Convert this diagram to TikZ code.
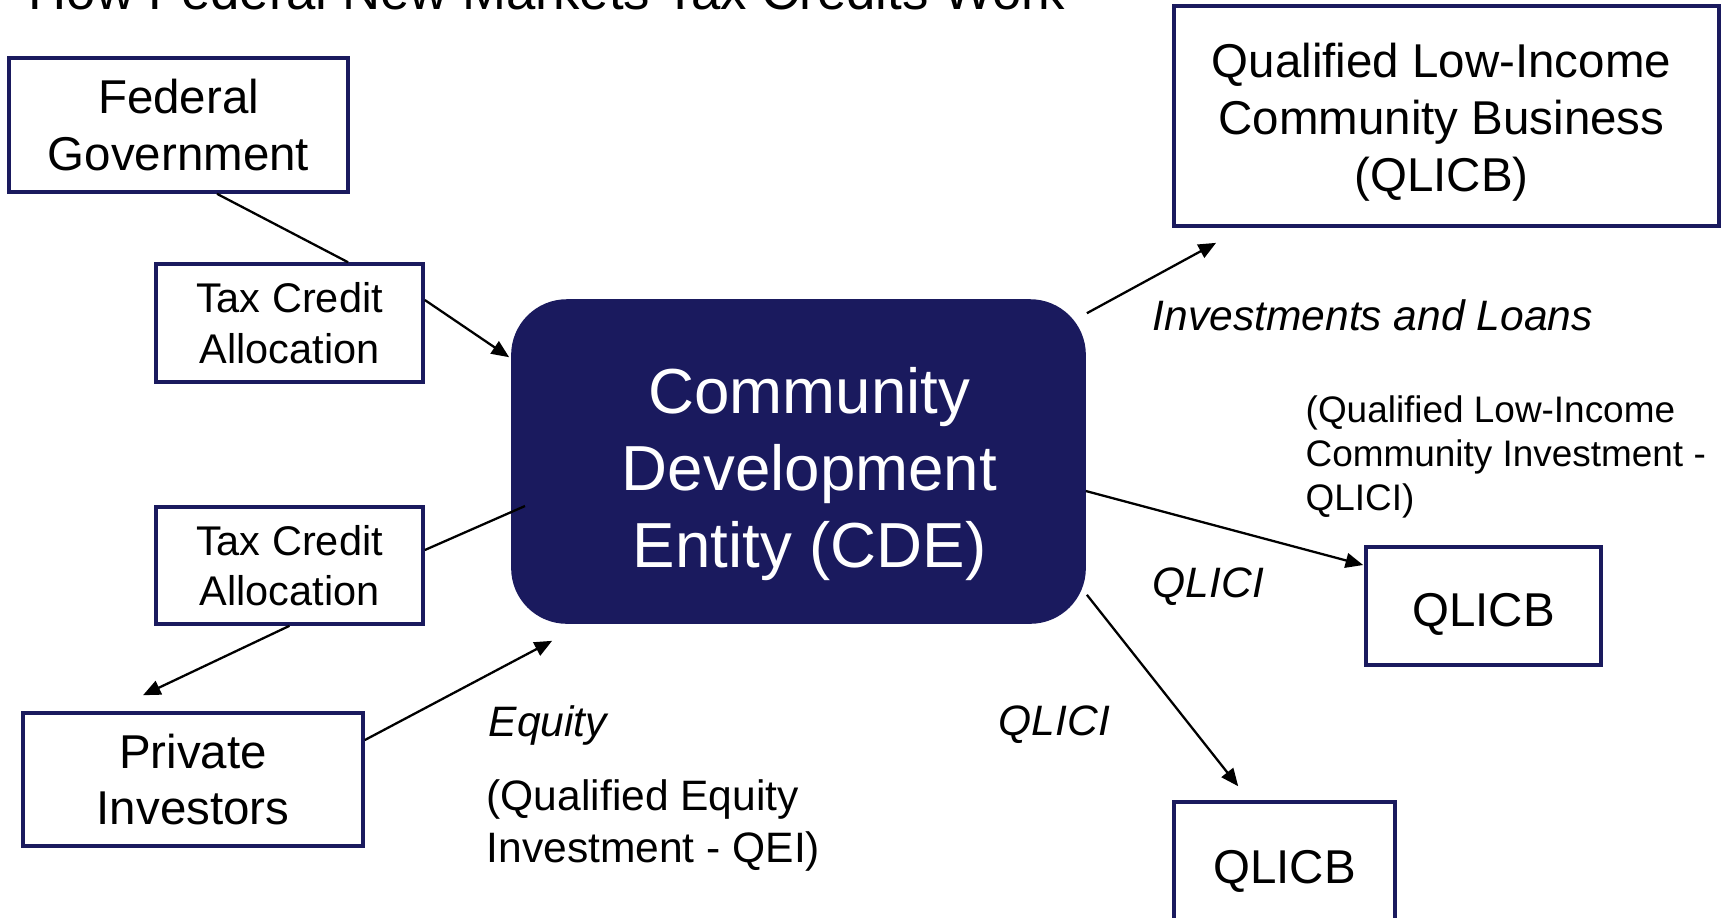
\documentclass[tikz,border=0pt]{standalone}
\usepackage{fontspec}
\setmainfont{Liberation Sans}
\usetikzlibrary{arrows.meta,calc}
\definecolor{navy}{HTML}{1A1A5E}
\begin{document}
\begin{tikzpicture}[x=0.01cm,y=-0.01cm,
  box/.style={draw=navy, line width=1pt, fill=white, inner sep=0pt, align=center},
  bigtxt/.style={font=\fontsize{13.5}{16.2}\selectfont},
  midtxt/.style={font=\fontsize{11.8}{14.4}\selectfont},
  lowtxt/.style={text height=11.4pt, text depth=0pt},
  cdebox/.style={fill=navy, draw=navy, rounded corners=0.55cm, inner sep=0pt},
  cdetxt/.style={inner sep=0pt, align=center, text=white,
    font=\fontsize{18.1}{21.9}\selectfont},
  lbl/.style={inner sep=0pt, font=\fontsize{12.1}{14.8}\selectfont\itshape},
  note/.style={inner sep=0pt, align=left},
  link/.style={line width=0.65pt},
  arr/.style={link, -{Triangle[length=5pt,width=4.2pt]}}]
\useasboundingbox (0,0) rectangle (1727,917);

% heading
\node[anchor=base west, inner sep=0pt, font=\fontsize{15}{18}\selectfont]
  (title) at (28,9) {How Federal New Markets Tax Credits Work};

% boxes
\node[box, bigtxt, minimum width=3.39cm, minimum height=1.34cm]
  (fed) at (178.5,125) {Federal\\Government};
\node[box, midtxt, minimum width=2.67cm, minimum height=1.18cm]
  (tca1) at (289.5,323) {Tax Credit\\Allocation};
\node[box, midtxt, minimum width=2.67cm, minimum height=1.17cm]
  (tca2) at (289.5,565.5) {Tax Credit\\Allocation};
\node[box, bigtxt, minimum width=3.40cm, minimum height=1.33cm]
  (inv) at (193,779.5) {Private\\Investors};
\node[cdebox, minimum width=5.73cm, minimum height=3.23cm]
  (cde) at (798.5,461.5) {};
\node[cdetxt] (cdelabel) at ($(cde.center)+(11,13)$)
  {Community\\Development\\Entity (CDE)};
\node[box, minimum width=5.45cm, minimum height=2.20cm]
  (qbig) at (1446.5,116) {};
\node[bigtxt, inner sep=0pt, align=center] (qbiglabel) at ($(qbig.center)+(-5,6.5)$)
  {Qualified Low-Income\\Community Business\\(QLICB)};
\node[box, bigtxt, lowtxt, minimum width=2.35cm, minimum height=1.18cm]
  (qr) at (1483.5,606) {QLICB};
\node[box, bigtxt, lowtxt, minimum width=2.21cm, minimum height=1.22cm]
  (qb) at (1284.5,863) {QLICB};

% labels
\node[lbl, anchor=base west] (invlbl) at (1152,330) {Investments and Loans};
\node[note, anchor=west, font=\fontsize{10.5}{12.5}\selectfont]
  (qlicinote) at (1305,457) {(Qualified Low-Income\\Community Investment -\\QLICI)};
\node[lbl, anchor=base west] (qlici1) at (1152,597) {QLICI};
\node[lbl, anchor=base west] (qlici2) at (998,735) {QLICI};
\node[lbl, anchor=base west] (eqlbl) at (488,736) {Equity};
\node[note, anchor=west, font=\fontsize{12.1}{14.8}\selectfont]
  (qeinote) at (486,825) {(Qualified Equity\\Investment - QEI)};

% connectors
\coordinate (cdein) at (525,506);
\draw[link] ($(fed.south)+(38.5,0)$) -- ($(tca1.north)+(58.5,0)$);
\draw[arr]  ($(tca1.east)+(0,-23)$) -- ($(cde.north west)+(-2,58)$);
\draw[link] (cdein) -- ($(tca2.east)+(0,-15.5)$);
\draw[arr]  (tca2.south) -- ($(inv.north)+(-50,-16)$);
\draw[arr]  ($(inv.east)+(0,-39.5)$) -- ($(cde.south west)+(41,17)$);
\draw[arr]  ($(cde.north east)+(1,14)$) -- ($(qbig.south west)+(44,15)$);
\draw[arr]  ($(cde.east)+(0,29.5)$) -- ($(qr.west)+(-1,-41)$);
\draw[arr]  ($(cde.south east)+(1,-29)$) -- ($(qb.north west)+(66,-14)$);
\end{tikzpicture}
\end{document}
